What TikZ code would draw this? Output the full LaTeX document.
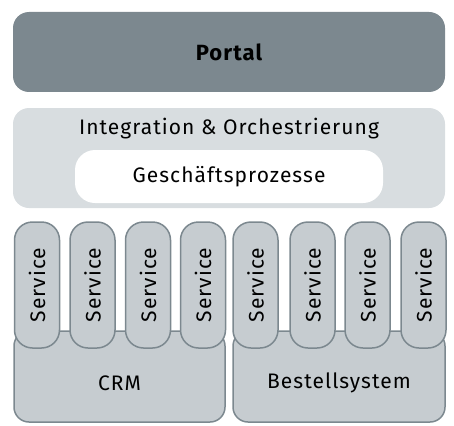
\documentclass[tikz,border=0pt]{standalone}
\usepackage{xcolor}
\usepackage{fontspec}
\setmainfont[LetterSpace=5]{Fira Sans}
\usepackage{tikz}
\usetikzlibrary{positioning}
\definecolor{portalgray}{HTML}{7C888F}
\definecolor{midgray}{HTML}{D8DDE0}
\definecolor{servgray}{HTML}{C6CCD0}

\begin{document}
\begin{tikzpicture}[x=1pt,y=-1pt]
        \useasboundingbox (0,0) rectangle (454,425);
        \begin{scope}[every node/.style={inner sep=0pt,outer sep=0pt,font=\fontsize{21}{25}\selectfont}]
          \node[fill=portalgray,rounded corners=16pt,minimum width=432pt,minimum height=80pt,font=\fontsize{22}{26}\selectfont\bfseries] (portal) at (229,52) {Portal};
          \node[fill=midgray,rounded corners=16pt,minimum width=432pt,minimum height=100pt] (integ) at (229,158) {};
          \node (integtext) at (229,129) {Integration \& Orchestrierung};
          \node[fill=white,rounded corners=20pt,minimum width=308pt,minimum height=53pt] (gp) at (229,176.5) {Geschäftsprozesse};
        \end{scope}
        \begin{scope}[every node/.style={inner sep=0pt,outer sep=0pt,draw=portalgray,line width=1.5pt,fill=servgray,rounded corners=15pt,font=\fontsize{21}{25}\selectfont}]
          \node[minimum width=211pt,minimum height=91pt] (crm) at (119.5,376.5) {};
          \node[minimum width=212pt,minimum height=91pt] (best) at (339,376.5) {};
          \foreach \x [count=\i] in {37,92.5,148,203,255.5,312.5,367.5,423.5}
            \node[minimum width=45pt,minimum height=126pt,rounded corners=18pt] (s\i) at (\x,285) {\rotatebox{90}{Service}};
        \end{scope}
        \node[font=\fontsize{21}{25}\selectfont] (crmtext) at (119.5,383) {CRM};
        \node[font=\fontsize{21}{25}\selectfont] (besttext) at (339,383) {Bestellsystem};
      \end{tikzpicture}
\end{document}
